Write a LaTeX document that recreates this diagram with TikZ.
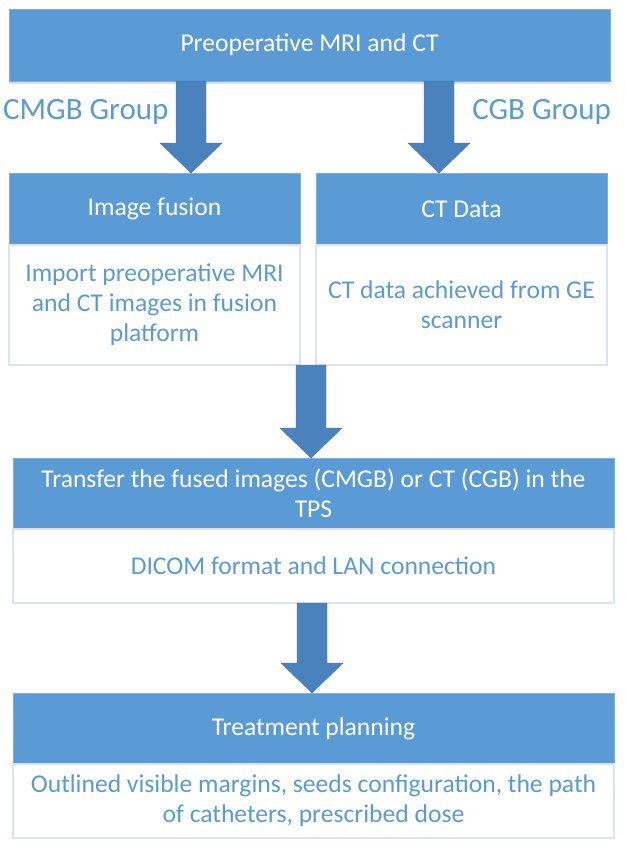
\documentclass[tikz,border=0pt]{standalone}
\usepackage{fontspec}
\setmainfont{Carlito}
\usetikzlibrary{calc,shadows}
\definecolor{hdrblue}{HTML}{5B9BD5}
\definecolor{arrblue}{HTML}{4A82BE}
\definecolor{bodyline}{HTML}{DAE3F0}
\definecolor{txtblue}{HTML}{5B9BD5}
\definecolor{shadblue}{HTML}{D3E2F2}
\tikzset{
  hdrbox/.style={anchor=north west, fill=hdrblue, draw=hdrblue!80!white, line width=0.6pt,
    text=white, inner sep=0pt, outer sep=0pt, align=center,
    font=\fontsize{25.6}{30}\selectfont},
  bodybox/.style={anchor=north west, fill=white, draw=bodyline, line width=1.5pt,
    text=txtblue, inner sep=0pt, outer sep=0pt, align=center,
    font=\fontsize{25.6}{30}\selectfont},
  grouplbl/.style={text=txtblue, inner sep=0pt, font=\fontsize{31}{36}\selectfont},
  blockarrow/.style={fill=arrblue, draw=arrblue!90!black, line width=0.4pt, line join=miter}
}
% block arrow from #1 to #2 (shaft half width 15, head half width 31, head length 30)
\newcommand\blkarrow[2]{%
  \path[blockarrow] let \p1=#1, \p2=#2 in
    (\x1-15pt,\y1) -- (\x1+15pt,\y1) -- (\x1+15pt,\y2+30pt) -- (\x1+31pt,\y2+30pt)
    -- (\x1,\y2) -- (\x1-31pt,\y2+30pt) -- (\x1-15pt,\y2+30pt) -- cycle;}
\begin{document}
\begin{tikzpicture}[x=1pt,y=-1pt]
\useasboundingbox (0,0) rectangle (625,848);
\fill[white] (0,0) rectangle (625,848);

% top box
\node[hdrbox, minimum width=601pt, minimum height=72pt,
  general shadow={fill=shadblue, shadow yshift=-3pt}] (top) at (9,9) {Preoperative MRI and CT};

% second row
\node[hdrbox, minimum width=291pt, minimum height=72pt] (fush) at (9,173) {Image fusion};
\node[bodybox, minimum width=291pt, minimum height=120pt] (fusb) at (9,245)
  {Import preoperative MRI\\and CT images in fusion\\platform};
\node[hdrbox, minimum width=291pt, minimum height=72pt] (cth) at (316,173) {CT Data};
\node[bodybox, minimum width=291pt, minimum height=120pt] (ctb) at (316,245)
  {CT data achieved from GE\\scanner};

% group labels
\node[grouplbl, anchor=west] (lblL) at (3,112) {CMGB Group};
\node[grouplbl, anchor=east] (lblR) at (611,112) {CGB Group};

% third row
\node[hdrbox, minimum width=601pt, minimum height=71pt] (trh) at (13,458)
  {Transfer the fused images (CMGB) or CT (CGB) in the\\TPS};
\node[bodybox, minimum width=601pt, minimum height=74pt] (trb) at (13,529)
  {DICOM format and LAN connection};

% fourth row
\node[hdrbox, minimum width=601pt, minimum height=71pt] (tph) at (13,693) {Treatment planning};
\node[bodybox, minimum width=601pt, minimum height=74pt] (tpb) at (13,764)
  {Outlined visible margins, seeds configuration, the path\\of catheters, prescribed dose};

% arrow x positions
\coordinate (ax1) at (191,0);
\coordinate (ax2) at (439,0);
\coordinate (ax3) at (311,0);
\coordinate (ax4) at (312,0);

\blkarrow{(top.south -| ax1)}{(fush.north -| ax1)}
\blkarrow{(top.south -| ax2)}{(cth.north -| ax2)}
\blkarrow{(fusb.south -| ax3)}{(trh.north -| ax3)}
\blkarrow{(trb.south -| ax4)}{(tph.north -| ax4)}
\end{tikzpicture}
\end{document}
